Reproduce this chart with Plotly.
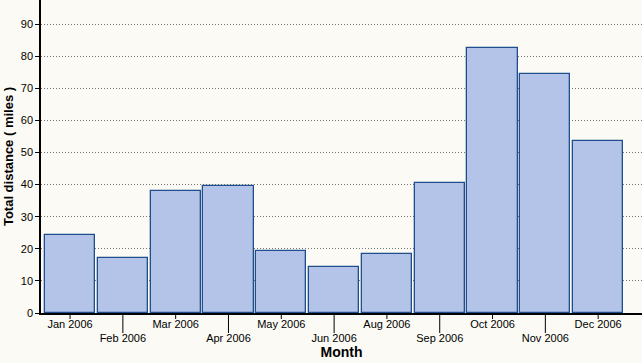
import plotly.graph_objects as go

months = ["Jan 2006", "Feb 2006", "Mar 2006", "Apr 2006", "May 2006", "Jun 2006",
          "Aug 2006", "Sep 2006", "Oct 2006", "Nov 2006", "Dec 2006"]
distance = [24.2, 17.0, 37.9, 39.7, 19.3, 14.2, 18.4, 40.4, 82.6, 74.3, 53.7]
y_ticks = [0, 10, 20, 30, 40, 50, 60, 70, 80, 90]

W, H = 642, 363
ML, MB = 41, 50
plot_h = H - MB

tick_text = [m if i % 2 == 0 else "<br>" + m for i, m in enumerate(months)]

fig = go.Figure(go.Bar(
    x=months, y=distance, width=0.95,
    marker=dict(color="#B4C3E8", line=dict(color="#1F4E8C", width=1.3)),
))

shapes = []
for i, m in enumerate(months):
    L = 6 if i % 2 == 0 else 20
    shapes.append(dict(type="line", xref="x", yref="paper", x0=m, x1=m,
                       y0=0, y1=-L / plot_h, line=dict(color="black", width=1)))

fig.update_layout(
    width=W, height=H,
    margin=dict(l=ML, r=0, t=0, b=MB),
    paper_bgcolor="#FBFAF5", plot_bgcolor="#FBFAF5",
    font=dict(family="Liberation Sans, Arial, sans-serif", size=11, color="black"),
    showlegend=False,
    bargap=0,
    shapes=shapes,
    xaxis=dict(
        type="category", categoryorder="array", categoryarray=months,
        range=[-0.55, 10.83],
        tickmode="array", tickvals=months, ticktext=tick_text,
        ticks="", showgrid=False, showline=True, linecolor="black", linewidth=1.5,
        title=dict(text="<b>Month</b>", font=dict(size=14), standoff=2),
        tickfont=dict(size=11),
        automargin=False,
    ),
    yaxis=dict(
        range=[0, 97.5], tickmode="array", tickvals=y_ticks,
        ticks="outside", ticklen=4, tickcolor="black",
        showgrid=True, gridcolor="#777777", griddash="1px,2px", gridwidth=1,
        showline=True, linecolor="black", linewidth=1.5,
        zeroline=False,
        title=dict(text="<b>Total distance ( miles )</b>", font=dict(size=13), standoff=4),
        tickfont=dict(size=11),
        automargin=False,
    ),
)

fig.write_html(
    "out.html",
    config={"displayModeBar": False},
    post_script="document.body.style.margin='0';document.body.style.padding='0';"
                "document.body.style.overflow='hidden';",
)
